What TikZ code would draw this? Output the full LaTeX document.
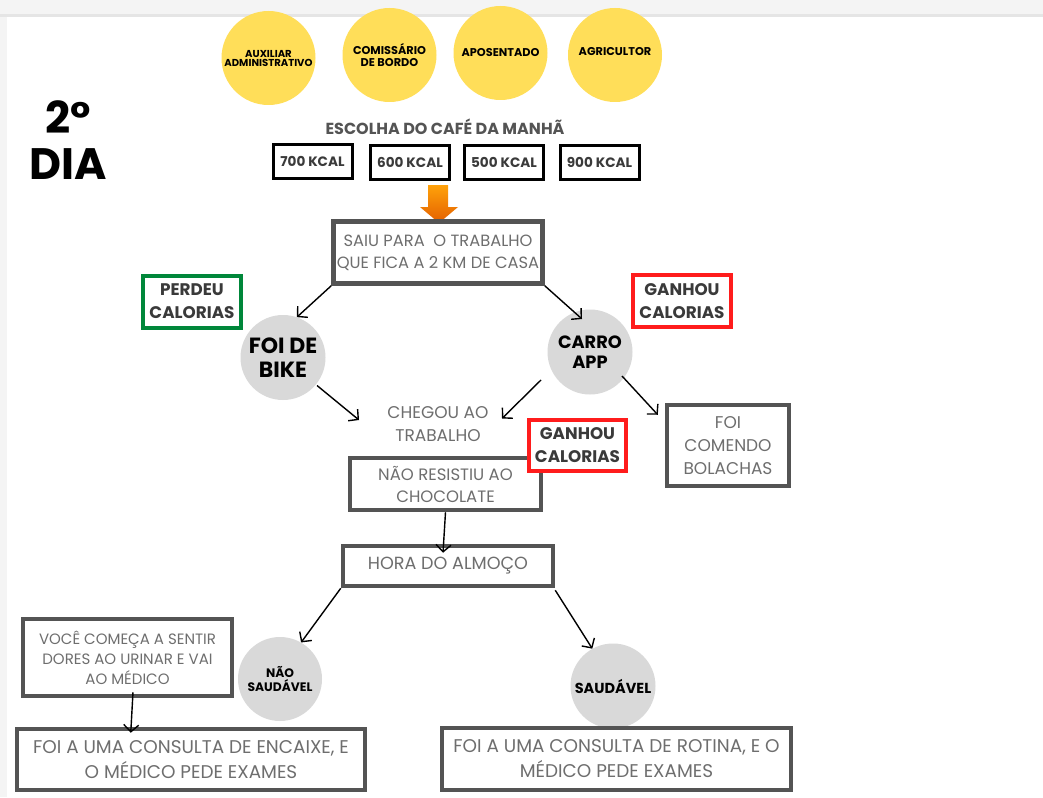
\documentclass[tikz,border=0pt]{standalone}
\usepackage{fontspec}
\setmainfont{Poppins}
\usetikzlibrary{arrows.meta}
\definecolor{yellowC}{HTML}{FFDE59}
\definecolor{circC}{HTML}{D9D9D9}
\definecolor{borderC}{HTML}{545454}
\definecolor{txtC}{HTML}{6E6E6E}
\definecolor{tagC}{HTML}{3A3A3A}
\definecolor{redC}{HTML}{FF1C1C}
\definecolor{greenC}{HTML}{00873A}
\definecolor{bandC}{HTML}{F4F4F4}
\definecolor{orangeTop}{HTML}{FFA20A}
\definecolor{orangeBot}{HTML}{E35F00}
\tikzset{
  job/.style={circle, fill=yellowC, minimum size=94pt, inner sep=0pt, align=center,
    font=\bfseries\fontsize{11.3}{12}\selectfont, text=black},
  kcal/.style={draw=black, line width=3pt, fill=white, minimum width=79pt, minimum height=34pt,
    inner sep=0pt, font=\bfseries\fontsize{13.6}{14}\selectfont, text=tagC},
  greybox/.style={draw=borderC, line width=4.5pt, fill=white, inner sep=0pt, align=center,
    text=txtC},
  tagbox/.style={draw=#1, line width=4pt, fill=white, inner sep=0pt, align=center,
    minimum width=98pt, minimum height=52pt, text=tagC,
    font=\bfseries\fontsize{16.8}{23}\selectfont},
  choice/.style={circle, fill=circC, minimum size=85pt, inner sep=0pt, align=center, text=black},
  arr/.style={-{Straight Barb[length=7pt,width=15pt]}, line width=1.4pt, black},
}
\begin{document}
\begin{tikzpicture}[x=1pt,y=-1pt]
\useasboundingbox (0,0) rectangle (1043,797);
\fill[white] (0,0) rectangle (1043,797);
% top band and left strip
\fill[bandC] (0,0) rectangle (1043,15);
\fill[black!10] (0,14) rectangle (1043,17);
\fill[bandC] (0,17) rectangle (7,797);

% job circles
\node[job, font=\bfseries\fontsize{10.1}{9}\selectfont] (aux) at (268.5,58) {AUXILIAR\\ADMINISTRATIVO};
\node[job] (com) at (389.5,55) {COMISSÁRIO\\DE BORDO};
\node[job] (apo) at (500.5,53) {APOSENTADO};
\node[job] (agr) at (615,55) {\raisebox{7pt}{AGRICULTOR}};

% title
\node[font=\bfseries\fontsize{44}{46}\selectfont, align=center, text=black] (dia) at (68,140) {2°\\DIA};

% breakfast
\node[font=\fontsize{16}{16}\selectfont\bfseries, text=borderC] (esc) at (445,127) {ESCOLHA DO CAFÉ DA MANHÃ};
\node[kcal] (k700) at (312.5,161.5) {700 KCAL};
\node[kcal] (k600) at (410,162.5) {600 KCAL};
\node[kcal] (k500) at (504,162) {500 KCAL};
\node[kcal] (k900) at (599.5,162.5) {900 KCAL};

% orange arrow
\shade[top color=orangeTop, bottom color=orangeBot]
  (428,185) -- (448,185) -- (448,207) -- (458,207) -- (439,223) -- (420,207) -- (428,207) -- cycle;

% left work box
\node[greybox, minimum width=209pt, minimum height=62pt, font=\fontsize{16.3}{22}\selectfont] (saiu) at (438,252.5)
  {SAIU PARA\ \ O TRABALHO\\QUE FICA A 2 KM DE CASA};

\node[tagbox=greenC] (perdeu) at (192,301.5) {PERDEU\\CALORIAS};
\node[tagbox=redC] (ganhou1) at (682,301) {GANHOU\\CALORIAS};

\node[choice, font=\bfseries\fontsize{22}{24}\selectfont] (bike) at (283,357.5) {FOI DE\\BIKE};
\node[choice, font=\bfseries\fontsize{17.8}{20}\selectfont] (carro) at (590,352) {CARRO\\APP};

\node[align=center, text=txtC, font=\fontsize{17}{23}\selectfont] (chegou) at (438,424.5) {CHEGOU AO\\TRABALHO};

\node[greybox, minimum width=122pt, minimum height=81pt, font=\fontsize{17}{23}\selectfont] (comendo) at (728,445.5)
  {FOI\\COMENDO\\BOLACHAS};

\node[greybox, minimum width=191pt, minimum height=52pt, font=\fontsize{16.5}{22}\selectfont] (resist) at (445.5,484)
  {NÃO RESISTIU AO\\CHOCOLATE};
\node[tagbox=redC, minimum width=97pt, minimum height=51pt] (ganhou2) at (577.5,445.5) {GANHOU\\CALORIAS};

\node[greybox, minimum width=210pt, minimum height=40pt, font=\fontsize{17.6}{18}\selectfont] (hora) at (448,566)
  {HORA DO ALMOÇO};

\node[choice, minimum size=84pt, font=\bfseries\fontsize{12.3}{14}\selectfont] (naos) at (280,679) {NÃO\\SAUDÁVEL};
\node[choice, minimum size=85pt, font=\bfseries\fontsize{14.5}{15}\selectfont] (saud) at (613,686) {SAUDÁVEL};

\node[greybox, minimum width=209pt, minimum height=77pt, font=\fontsize{15}{20}\selectfont] (voce) at (127.5,657.5)
  {VOCÊ COMEÇA A SENTIR\\DORES AO URINAR E VAI\\AO MÉDICO};

\node[greybox, minimum width=348pt, minimum height=61pt, font=\fontsize{18.4}{25}\selectfont] (botL) at (191,759.5)
  {FOI A UMA CONSULTA DE ENCAIXE, E\\O MÉDICO PEDE EXAMES};
\node[greybox, minimum width=349pt, minimum height=62pt, font=\fontsize{18.4}{25}\selectfont] (botR) at (616.5,759)
  {FOI A UMA CONSULTA DE ROTINA, E O\\MÉDICO PEDE EXAMES};

% connectors
\draw[arr] (saiu.south west) -- (bike.71);
\draw[arr] (saiu.south east) -- ([shift={(-8,-33)}]carro.center);
\draw[arr] ([shift={(34,28)}]bike.center) -- ([shift={(-79,-4.5)}]chegou.center);
\draw[arr] ([shift={(-49,28)}]carro.center) -- ([shift={(64,-6)}]chegou.center);
\draw[arr] ([shift={(32,24)}]carro.center) -- ([shift={(-7,12)}]comendo.north west);
\draw[arr] (resist.south) -- ([shift={(-5,9)}]hora.north);
\draw[arr] (hora.south west) -- (naos.60);
\draw[arr] ([shift={(0,2)}]hora.south east) -- (saud.119);
\draw[arr] ([shift={(5.5,-6)}]voce.south) -- ([shift={(116,6)}]botL.north west);
\end{tikzpicture}
\end{document}
